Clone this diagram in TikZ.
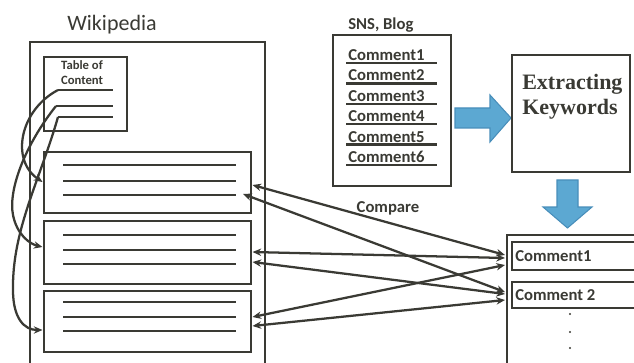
\documentclass[tikz,border=0pt]{standalone}
\usepackage{fontspec}
\setmainfont{Carlito}
\newfontfamily\timesfam{Liberation Serif}
\usetikzlibrary{arrows.meta,fit}
\definecolor{ink}{RGB}{58,58,52}
\definecolor{blu}{RGB}{92,168,210}
\definecolor{bluedge}{RGB}{72,142,186}
\begin{document}
\begin{tikzpicture}[x=0.75pt,y=-0.75pt,
  box/.style={draw=ink, line width=2.1pt, inner sep=0pt},
  tline/.style={draw=ink, line width=1.8pt},
  conn/.style={draw=ink, line width=1.7pt, -{Stealth[length=6.5pt,width=5.5pt]}},
  cmp/.style={draw=ink, line width=1.7pt, {Stealth[length=6.5pt,width=5.5pt]}-{Stealth[length=6.5pt,width=5.5pt]}},
  lbl/.style={text=ink, font=\bfseries\fontsize{12.5}{14}\selectfont, inner sep=0pt},
  bigarrow/.style={fill=blu, draw=bluedge, line width=0.8pt}]
\useasboundingbox (0,0) rectangle (634,363);
\clip (0,0) rectangle (634,363);

% Wikipedia side
\node[text=ink, font=\fontsize{16.5}{18}\selectfont, inner sep=0pt] (wtitle) at (112,25) {Wikipedia};
\node[box, fit={(30,42) (265,380)}] (wiki) {};
\node[box, line width=1.9pt, fit={(44,57) (127,131)}] (toc) {};
\node[text=ink, font=\bfseries\fontsize{9.5}{11.25}\selectfont, align=center, inner sep=0pt] (toct) at (82,73) {Table of\\Content};
\coordinate (t1) at (58,90);  \coordinate (t1e) at (113,90);
\coordinate (t2) at (56,106); \coordinate (t2e) at (113,106);
\coordinate (t3) at (58,117); \coordinate (t3e) at (113,117);
\draw[tline] (t1) -- (t1e);
\draw[tline] (t2) -- (t2e);
\draw[tline] (t3) -- (t3e);

\node[box, fit={(44,152) (251,213)}] (b1) {};
\node[box, fit={(44,221) (251,284)}] (b2) {};
\node[box, fit={(44,291) (251,352)}] (b3) {};
\foreach \yy in {165,181,195, 235,250,264, 302,317,331}
  \draw[tline] (63,\yy) -- (236,\yy);

% curves from table of content
\coordinate (a1) at (42.5,182);
\coordinate (a2) at (42.5,247);
\coordinate (a3) at (42.5,330);
\draw[conn] (t1) .. controls (20,110) and (10,160) .. (a1);
\draw[conn] (t2) .. controls (25,145) and (8,190) .. (13,215) .. controls (17,235) and (30,244) .. (a2);
\draw[conn] (t3) .. controls (40,180) and (12,230) .. (13,290) .. controls (13,318) and (24,330) .. (a3);

% SNS, Blog
\node[lbl, anchor=west] (snst) at (348,25) {SNS, Blog};
\node[box, fit={(333,35) (451,186)}] (sns) {};
\foreach \i in {1,...,6}{
  \pgfmathsetmacro{\uy}{63+20.4*(\i-1)}
  \node[lbl, anchor=base west] (sc\i) at (348,\uy-2.5) {Comment\i};
  \draw[tline] (346,\uy) -- (437,\uy);
}

% blue arrows
\draw[bigarrow] (455,108) -- (490,108) -- (490,95) -- (511,118) -- (490,142) -- (490,128) -- (455,128) -- cycle;
\draw[bigarrow] (557,180) -- (578,180) -- (578,207) -- (592,207) -- (567.5,228) -- (543,207) -- (557,207) -- cycle;

% Extracting Keywords
\node[box, fit={(512,55) (630,172)}] (ext) {};
\node[text=ink, font=\timesfam\bfseries\fontsize{16.5}{18}\selectfont, inner sep=0pt, anchor=base west] (ex1) at (522,90) {Extracting};
\node[text=ink, font=\timesfam\bfseries\fontsize{16.5}{18}\selectfont, inner sep=0pt, anchor=base west] (ex2) at (522,115) {Keywords};

% right comment list
\node[box, fit={(507,235) (660,380)}] (rbox) {};
\node[box, fit={(512,242) (660,270)}] (rc1) {};
\node[box, fit={(512,282) (660,308)}] (rc2) {};
\node[lbl, anchor=west] (rc1t) at (515,256) {Comment1};
\node[lbl, anchor=west] (rc2t) at (515,295) {Comment 2};
\fill[ink] (570,314) circle (0.9pt);
\fill[ink] (570,332) circle (0.9pt);
\fill[ink] (570,348) circle (0.9pt);

% compare
\node[lbl] (cmpt) at (388,208) {Compare};
\coordinate (l1) at (252.5,185);
\coordinate (l2) at (243,194);
\coordinate (l3) at (252.5,252);
\coordinate (l4) at (252.5,262);
\coordinate (l5) at (252.5,317);
\coordinate (l6) at (252.5,326);
\coordinate (r1) at (505,255);
\coordinate (r3) at (505,258);
\coordinate (r5) at (505,265);
\coordinate (r2) at (505,292);
\coordinate (r4) at (505,294);
\coordinate (r6) at (505,300);
\draw[cmp] (l1) -- (r1);
\draw[cmp] (l2) -- (r2);
\draw[cmp] (l3) -- (r3);
\draw[cmp] (l4) -- (r4);
\draw[cmp] (l5) -- (r5);
\draw[cmp] (l6) -- (r6);
\end{tikzpicture}
\end{document}
